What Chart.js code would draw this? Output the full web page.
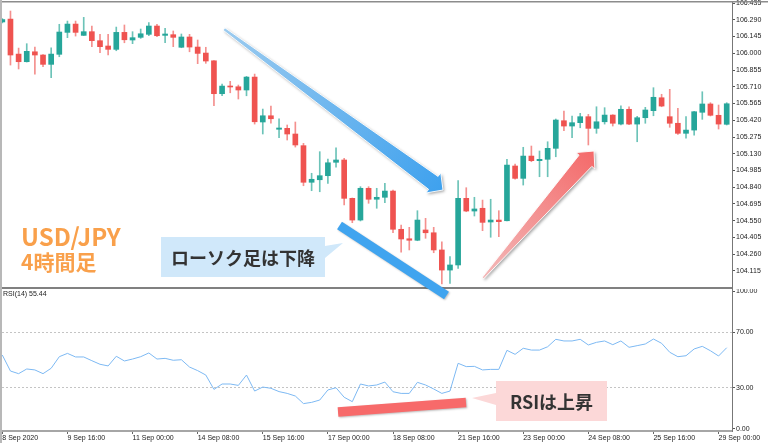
<!DOCTYPE html>
<html><head><meta charset="utf-8">
<script src="https://cdn.jsdelivr.net/npm/chart.js@4.4.0/dist/chart.umd.min.js"></script>
<style>
html,body{margin:0;padding:0;background:#fff;overflow:hidden}
#wrap{position:relative;width:768px;height:443px;background:#fff}
#c1{position:absolute;left:0;top:0}
#c2{position:absolute;left:0;top:289px}
</style></head><body>
<div id="wrap"><canvas id="c1" width="768" height="289"></canvas><canvas id="c2" width="768" height="154"></canvas></div>
<script>
// ---- data (USD/JPY 4H, bar index 0..89) ----
const openP = [106.271,106.296,105.993,105.927,106.013,105.985,105.904,105.991,106.181,106.253,
106.155,106.187,106.109,106.063,106.034,106.181,106.115,106.138,106.164,106.236,
106.155,106.161,106.052,106.141,106.054,106.002,105.935,105.650,105.716,105.710,
105.682,105.794,105.405,105.459,105.342,105.350,105.301,105.200,104.883,104.905,
104.940,105.056,105.076,104.744,104.556,104.831,104.736,104.753,104.807,104.476,
104.394,104.381,104.470,104.446,104.297,104.123,104.167,104.744,104.634,104.658,
104.539,104.556,104.550,105.024,104.917,105.110,105.070,105.082,105.177,105.416,
105.370,105.399,105.451,105.350,105.407,105.465,105.387,105.515,105.387,105.442,
105.503,105.615,105.451,105.394,105.307,105.335,105.489,105.561,105.463,105.385];
const highP = [106.301,106.366,106.045,106.083,106.054,105.989,106.048,106.251,106.279,106.279,
106.311,106.236,106.164,106.164,106.227,106.245,106.187,106.210,106.265,106.251,
106.216,106.193,106.167,106.164,106.115,106.052,105.937,105.734,105.757,105.725,
105.800,105.820,105.517,105.543,105.433,105.379,105.405,105.220,104.961,105.148,
105.084,105.182,105.090,104.747,104.845,104.845,104.831,104.874,104.816,104.513,
104.493,104.637,104.571,104.493,104.368,104.239,104.897,104.836,104.753,104.729,
104.736,104.637,105.082,105.041,105.186,105.197,105.154,105.234,105.431,105.500,
105.457,105.480,105.471,105.537,105.529,105.468,105.546,105.537,105.454,105.532,
105.702,105.645,105.688,105.523,105.451,105.497,105.667,105.572,105.552,105.572];
const lowP = [106.262,105.898,105.864,105.924,105.820,105.884,105.788,105.970,106.135,106.149,
106.154,106.057,106.005,105.985,106.022,106.091,106.083,106.129,106.152,106.143,
106.091,106.057,106.048,106.013,105.910,105.913,105.546,105.632,105.658,105.604,
105.632,105.387,105.301,105.394,105.269,105.249,105.188,104.853,104.810,104.801,
104.874,105.013,104.686,104.533,104.548,104.701,104.658,104.706,104.446,104.277,
104.297,104.377,104.398,104.273,104.002,104.008,104.138,104.628,104.591,104.464,
104.407,104.412,104.548,104.909,104.859,105.061,104.931,104.931,105.104,105.329,
105.269,105.355,105.206,105.307,105.387,105.370,105.379,105.381,105.234,105.394,
105.459,105.537,105.359,105.298,105.264,105.292,105.428,105.457,105.344,105.379];
const closeP = [106.292,105.985,105.927,106.017,105.985,105.904,105.993,106.184,106.253,106.181,
106.187,106.109,106.057,106.034,106.181,106.117,106.135,106.169,106.236,106.152,
106.167,106.138,106.141,106.054,105.999,105.933,105.650,105.716,105.708,105.682,
105.794,105.407,105.459,105.433,105.353,105.301,105.206,104.883,104.909,104.940,
105.052,105.076,104.744,104.556,104.831,104.736,104.753,104.807,104.476,104.392,
104.381,104.556,104.446,104.297,104.123,104.167,104.744,104.634,104.652,104.536,
104.556,104.542,105.032,104.917,105.110,105.070,105.082,105.177,105.422,105.370,
105.399,105.451,105.350,105.407,105.465,105.394,105.515,105.387,105.442,105.509,
105.619,105.543,105.394,105.307,105.335,105.494,105.561,105.463,105.387,105.563];
const rsi = [53.6,42.0,40.1,43.5,42.8,40.1,44.0,52.4,54.8,52.2,
52.2,49.5,46.9,45.7,52.7,49.3,50.7,52.4,55.1,50.7,
51.2,49.8,50.2,44.9,42.3,39.1,28.7,32.6,32.6,31.6,
39.1,27.5,30.4,29.5,27.1,25.8,23.9,18.4,19.3,21.0,
28.3,29.9,23.0,19.8,32.6,31.2,31.9,34.0,27.0,25.8,
25.8,33.8,31.9,29.0,25.8,27.5,47.6,45.2,45.4,42.8,
43.2,43.2,57.0,54.1,58.5,57.2,57.2,59.6,65.0,63.8,
63.8,65.0,60.9,62.8,63.8,61.1,63.8,59.2,60.4,61.6,
65.2,62.1,55.6,52.4,53.1,58.0,59.9,56.7,52.9,58.9];
const priceTicks = [106.435,106.290,106.145,106.000,105.855,105.710,105.565,105.420,105.275,105.130,104.985,104.840,104.695,104.550,104.405,104.260,104.115];
const rsiTicks = [100,70,30,0];
const xTickIdx = [0,8,16,24,32,40,48,56,64,72,80,88];
const xTickLabels = ['8 Sep 2020','9 Sep 16:00','11 Sep 00:00','14 Sep 08:00','15 Sep 16:00','17 Sep 00:00','18 Sep 08:00','21 Sep 16:00','23 Sep 00:00','24 Sep 08:00','25 Sep 16:00','29 Sep 00:00'];
const rsiLabel = 'RSI(14) 55.44';

// ---- styles ----
const UP = '#26a69a', DOWN = '#ef5350', UPW = '#6cc3b8', DOWNW = '#f4908e';
const AX_FONT = {family:'"Liberation Sans", Arial, sans-serif', size:7};
const XMIN = -0.04, XMAX = 89.65;
const idx = openP.map((_, i) => i);
const isUp = i => closeP[i] >= openP[i];

// ---- annotation drawing (page coordinates) ----
function band(ctx, x1, y1, x2, y2, w, color) {
  ctx.save();
  ctx.shadowColor = 'rgba(0,0,0,0.25)'; ctx.shadowBlur = 2; ctx.shadowOffsetX = 1; ctx.shadowOffsetY = 1;
  ctx.strokeStyle = color; ctx.lineWidth = w; ctx.lineCap = 'butt';
  ctx.beginPath(); ctx.moveTo(x1, y1); ctx.lineTo(x2, y2); ctx.stroke();
  ctx.restore();
}
function arrow(ctx, tail, tip, w0, w1, hl, hw, c0, c1) {
  const dx = tip[0]-tail[0], dy = tip[1]-tail[1], L = Math.hypot(dx, dy);
  const ux = dx/L, uy = dy/L, nx = -uy, ny = ux;
  const bx = tip[0]-ux*hl, by = tip[1]-uy*hl;
  ctx.beginPath();
  ctx.moveTo(tail[0]+nx*w0/2, tail[1]+ny*w0/2);
  ctx.lineTo(bx+nx*w1/2, by+ny*w1/2);
  ctx.lineTo(bx+nx*hw, by+ny*hw);
  ctx.lineTo(tip[0], tip[1]);
  ctx.lineTo(bx-nx*hw, by-ny*hw);
  ctx.lineTo(bx-nx*w1/2, by-ny*w1/2);
  ctx.lineTo(tail[0]-nx*w0/2, tail[1]-ny*w0/2);
  ctx.closePath();
  const g = ctx.createLinearGradient(tail[0], tail[1], tip[0], tip[1]);
  g.addColorStop(0, c0); g.addColorStop(1, c1);
  ctx.save();
  ctx.shadowColor = 'rgba(0,0,0,0.35)'; ctx.shadowBlur = 3; ctx.shadowOffsetX = 1.5; ctx.shadowOffsetY = 1.5;
  ctx.fillStyle = g; ctx.fill();
  ctx.restore();
  ctx.save(); ctx.strokeStyle = 'rgba(255,255,255,0.9)'; ctx.lineWidth = 1; ctx.stroke(); ctx.restore();
}
function callout(ctx, box, tail, fill, text) {
  ctx.save();
  ctx.fillStyle = fill;
  ctx.fillRect(box[0], box[1], box[2], box[3]);
  ctx.beginPath(); ctx.moveTo(tail[0][0], tail[0][1]); ctx.lineTo(tail[1][0], tail[1][1]); ctx.lineTo(tail[2][0], tail[2][1]); ctx.closePath(); ctx.fill();
  ctx.fillStyle = '#333';
  ctx.font = 'bold 18px "Noto Sans CJK JP", sans-serif';
  ctx.textAlign = 'center'; ctx.textBaseline = 'middle';
  ctx.fillText(text, box[0] + box[2]/2, box[1] + box[3]/2 + 1);
  ctx.restore();
}
function drawAnnotations(ctx, oy) {
  ctx.save();
  ctx.translate(0, -oy);
  band(ctx, 339.5, 225.5, 446.5, 295.5, 9, '#40a4ef');
  band(ctx, 338, 412, 466, 402.5, 9.5, '#f76a6a');
  arrow(ctx, [224, 29], [443, 190], 3, 16, 12, 12.5, '#9ccbef', '#3ea1ee');
  arrow(ctx, [483, 278], [594, 151], 2, 17, 13, 12.5, '#f3b9b9', '#f46a6a');
  callout(ctx, [161, 237, 164, 40], [[325, 246], [343, 243], [325, 258]], '#d0e8fa', 'ローソク足は下降');
  callout(ctx, [496, 381, 111, 40], [[496, 393], [472, 398], [496, 405]], '#fcd8d8', 'RSIは上昇');
  ctx.fillStyle = '#f9a04b';
  ctx.font = 'bold 24px "Noto Sans CJK JP", sans-serif';
  ctx.textAlign = 'left'; ctx.textBaseline = 'alphabetic';
  ctx.fillText('USD/JPY', 21, 246);
  ctx.font = 'bold 21px "Noto Sans CJK JP", sans-serif';
  ctx.textBaseline = 'middle';
  ctx.fillText('4時間足', 21, 262.5);
  ctx.restore();
}

const framePlugin1 = {
  id: 'frame1',
  afterDraw(chart) {
    const ctx = chart.ctx;
    ctx.save();
    ctx.fillStyle = '#8c8c8c'; ctx.fillRect(0, 1, 768, 1.5);
    ctx.fillStyle = '#808080'; ctx.fillRect(0, 287, 732, 2);
    ctx.fillStyle = '#b8b8b8'; ctx.fillRect(0, 0, 2, 289);
    ctx.restore();
    drawAnnotations(ctx, 0);
  }
};
const framePlugin2 = {
  id: 'frame2',
  afterDraw(chart) {
    const ctx = chart.ctx;
    ctx.save();
    ctx.fillStyle = '#b8b8b8'; ctx.fillRect(0, 0, 2, 154);
    ctx.fillStyle = '#222'; ctx.font = '7px "Liberation Sans", Arial, sans-serif';
    ctx.textAlign = 'left'; ctx.textBaseline = 'middle';
    ctx.fillText(rsiLabel, 3, 5);
    ctx.restore();
    drawAnnotations(ctx, 289);
  }
};

// ---- price chart ----
new Chart(document.getElementById('c1'), {
  type: 'bar',
  data: { datasets: [
    { label: 'wick', data: idx.map(i => ({x: i, y: [lowP[i], highP[i]]})),
      backgroundColor: idx.map(i => isUp(i) ? UPW : DOWNW), barThickness: 1, grouped: false, order: 2, minBarLength: 1 },
    { label: 'body', data: idx.map(i => ({x: i, y: [openP[i], closeP[i]]})),
      backgroundColor: idx.map(i => isUp(i) ? UP : DOWN), barThickness: 5, grouped: false, order: 1, minBarLength: 1 }
  ]},
  options: {
    responsive: false, animation: false, events: [],
    layout: { padding: {left: 2, top: 2, right: 0, bottom: 0}, autoPadding: false },
    plugins: { legend: {display: false}, tooltip: {enabled: false} },
    scales: {
      x: { type: 'linear', display: false, min: XMIN, max: XMAX, offset: false, bounds: 'data' },
      y: { position: 'right', min: 103.959, max: 106.444, bounds: 'data',
        afterBuildTicks: s => { s.ticks = priceTicks.map(v => ({value: v})); },
        afterFit: s => { s.width = 36; s.paddingTop = 0; s.paddingBottom = 0; },
        ticks: { autoSkip: false, padding: 1, color: '#222', font: AX_FONT, callback: v => Number(v).toFixed(3) },
        grid: { drawOnChartArea: false, drawTicks: true, tickLength: 3, tickColor: '#555', tickWidth: 1 },
        border: { display: true, color: '#777', width: 1 } }
    }
  },
  plugins: [framePlugin1]
});

// ---- RSI chart ----
new Chart(document.getElementById('c2'), {
  type: 'line',
  data: { datasets: [
    { label: 'RSI(14)', data: idx.map(i => ({x: i, y: rsi[i]})), borderColor: '#7db9f3', borderWidth: 1,
      pointRadius: 0, tension: 0, fill: false }
  ]},
  options: {
    responsive: false, animation: false, events: [],
    layout: { padding: {left: 2, top: 0, right: 0, bottom: 0}, autoPadding: false },
    plugins: { legend: {display: false}, tooltip: {enabled: false} },
    scales: {
      x: { type: 'linear', min: XMIN, max: XMAX, offset: false, bounds: 'data', position: 'bottom',
        afterBuildTicks: s => { s.ticks = xTickIdx.map(v => ({value: v})); },
        afterFit: s => { s.height = 12; s.paddingLeft = 0; s.paddingRight = 0; },
        ticks: { autoSkip: false, maxRotation: 0, minRotation: 0, align: 'start', padding: 0, color: '#222', font: AX_FONT,
          callback: v => { const k = xTickIdx.indexOf(v); return k >= 0 ? xTickLabels[k] : ''; } },
        grid: { drawOnChartArea: false, drawTicks: true, tickLength: 3, tickColor: '#666' },
        border: { display: true, color: '#a6a6a6', width: 2 } },
      y: { position: 'right', min: -1.45, max: 101.45, bounds: 'data',
        afterBuildTicks: s => { s.ticks = rsiTicks.map(v => ({value: v})); },
        afterFit: s => { s.width = 36; s.paddingTop = 0; s.paddingBottom = 0; },
        ticks: { autoSkip: false, padding: 1, color: '#222', font: AX_FONT, callback: v => Number(v).toFixed(2) },
        grid: { color: c => (c.tick && (c.tick.value === 70 || c.tick.value === 30)) ? '#c4c4c4' : 'rgba(0,0,0,0)',
          lineWidth: 1, drawTicks: true, tickLength: 3, tickColor: '#555' },
        border: { display: true, color: '#777', width: 1, dash: [2, 2] } }
    }
  },
  plugins: [framePlugin2]
});
</script>
</body></html>
